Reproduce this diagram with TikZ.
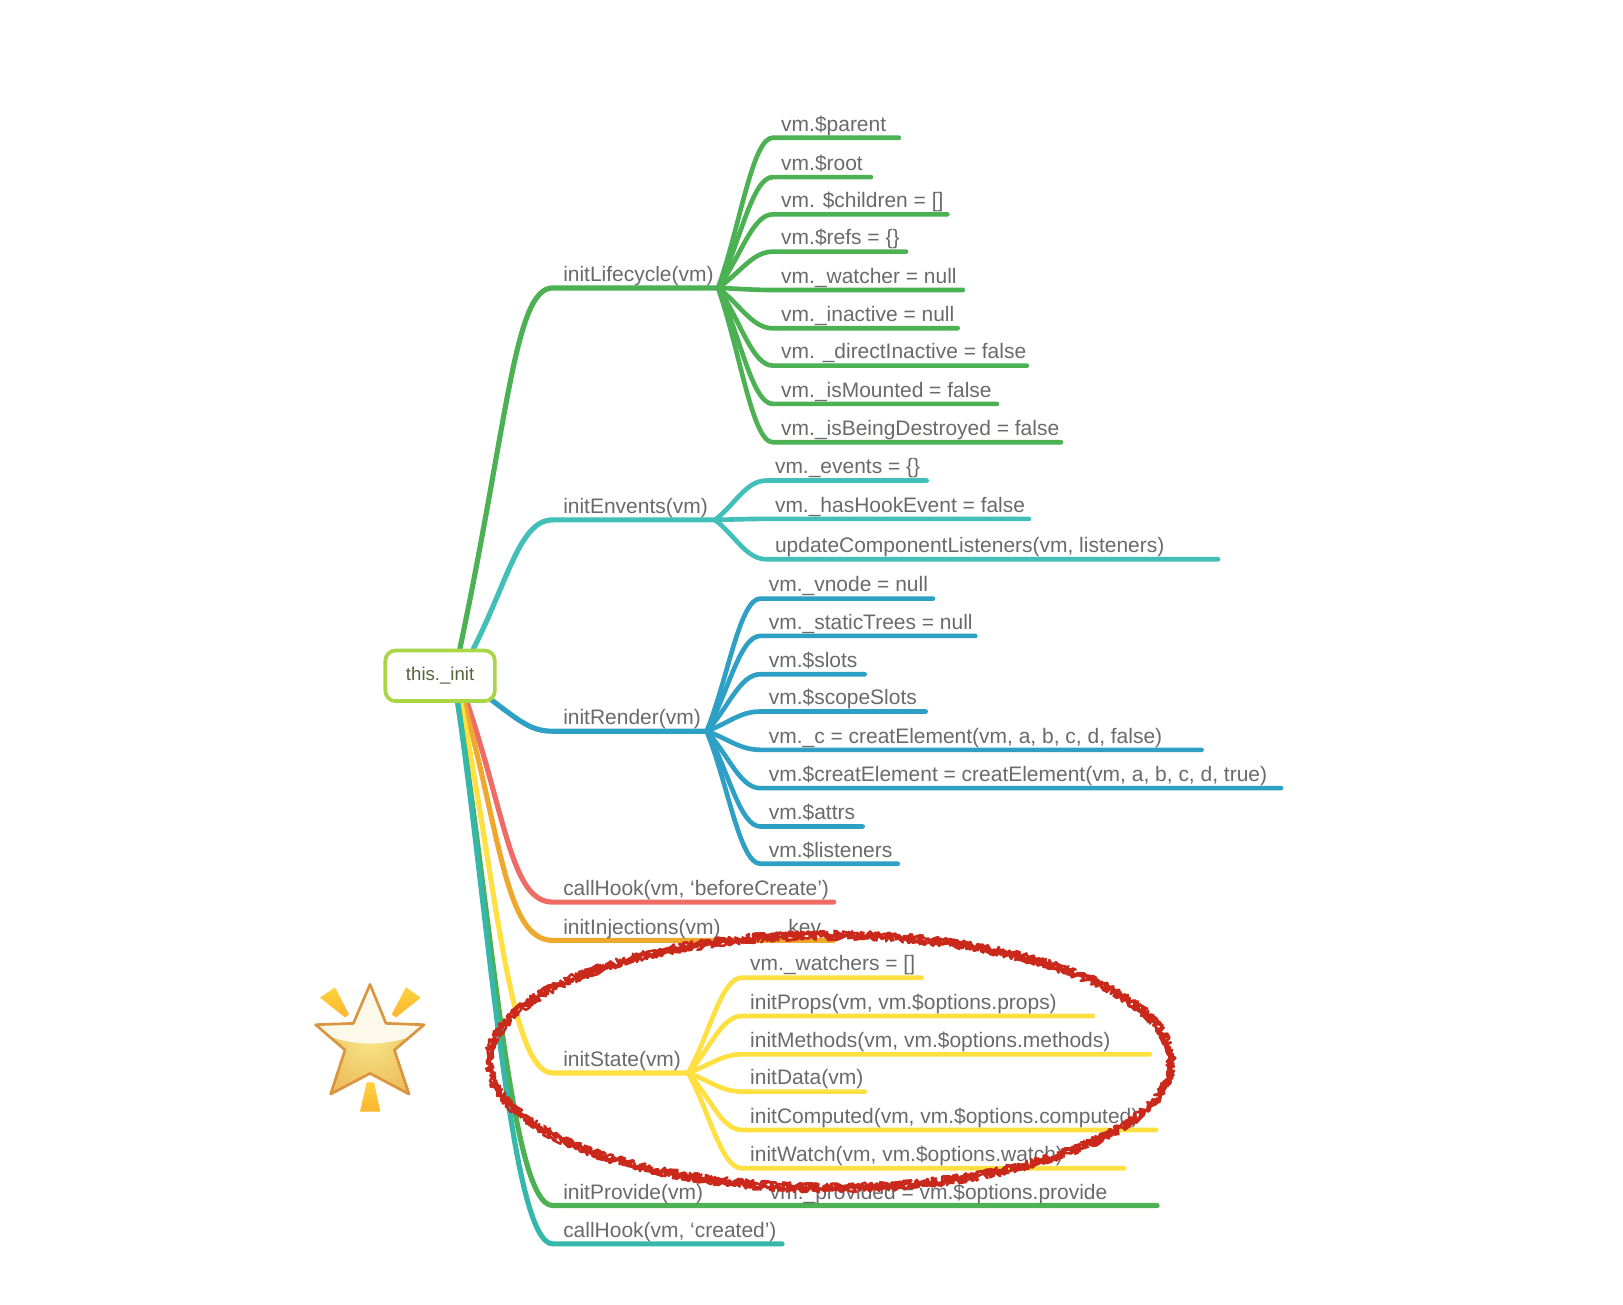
\documentclass[tikz,border=0pt]{standalone}
\usepackage{fontspec}
\setmainfont{Liberation Sans}
\usetikzlibrary{calc,decorations.pathmorphing}
\definecolor{cgreen}{HTML}{4CB153}
\definecolor{cteal}{HTML}{42BFB8}
\definecolor{cblue}{HTML}{2E9FC5}
\definecolor{cred}{HTML}{EF6C66}
\definecolor{corange}{HTML}{EFA82E}
\definecolor{cyellow}{HTML}{FFE040}
\definecolor{cteald}{HTML}{36B7AC}
\definecolor{croot}{HTML}{A9D645}
\definecolor{cink}{HTML}{6A6A6A}
\definecolor{crootink}{HTML}{55663B}
\definecolor{cscrib}{HTML}{C9281A}
\definecolor{cstarline}{HTML}{D9953F}
\definecolor{cstarin}{HTML}{F7E685}
\definecolor{cstarout}{HTML}{EDBE5E}
\definecolor{cshine}{HTML}{FCF8EA}
\definecolor{craytop}{HTML}{FFD23C}
\definecolor{crayend}{HTML}{FDB52F}
\tikzset{
  branch/.style={line width=4.5pt,line cap=round,line join=round},
  trunk/.style={line width=5pt,line cap=round,line join=round},
  txt/.style={text=cink,font=\fontsize{20.3}{23}\selectfont,inner sep=0pt,anchor=base west},
  rootbox/.style={draw=croot,line width=3.6pt,fill=white,rounded corners=10pt,minimum width=106pt,minimum height=49pt,inner sep=0pt,text=crootink,font=\fontsize{18}{20}\selectfont},
  scribble/.style={draw=cscrib,line width=2.4pt,line join=round,line cap=round,decorate,decoration={random steps,segment length=1.8pt,amplitude=4.6pt}},
  rayshade/.style={top color=craytop,bottom color=crayend,draw=none},
}
% name, colour, parent, curve end x, line y, line end x, text x, text
\newcommand{\leaf}[8]{%
  \coordinate (#1a) at (#4,#5);
  \coordinate (#1b) at (#6,#5);
  \draw[branch,draw=#2] (#3) .. controls ($(#3)!0.4!(#1a)$) and ($(#1a)+(-20,0)$) .. (#1a) -- (#1b);
  \node[txt] (#1) at (#7+1,#5-6.5) {#8};
}
\begin{document}
\begin{tikzpicture}[x=1pt,y=-1.0025pt]
\useasboundingbox (0,0) rectangle (1571,1260);
\fill[white] (0,0) rectangle (1571,1260);

% anchors on the root box and the junctions
\coordinate (rA) at (445,627);
\coordinate (rB) at (458,627);
\coordinate (rC) at (476,676);
\coordinate (rD) at (452,678);
\coordinate (rE) at (449,678);
\coordinate (rF) at (446,678);
\coordinate (rG) at (443,678);
\coordinate (rH) at (443,678);
\coordinate (jL) at (695,278);
\coordinate (jE) at (692,502);
\coordinate (jR) at (684,706);
\coordinate (jS) at (666,1036);

% initLifecycle
\draw[trunk,draw=cgreen] (rA) .. controls (492,405) and (498,278) .. (535,278) -- (jL);
\node[txt] (nLife) at (545,272) {initLifecycle(vm)};
\leaf{a1}{cgreen}{jL}{748}{133}{870}{755}{vm.\$parent}
\leaf{a2}{cgreen}{jL}{748}{171}{843}{755}{vm.\$root}
\leaf{a3}{cgreen}{jL}{748}{207}{917}{755}{vm. \$children = []}
\leaf{a4}{cgreen}{jL}{748}{243}{877}{755}{vm.\$refs = \{\}}
\leaf{a5}{cgreen}{jL}{748}{280}{932}{755}{vm.\_watcher = null}
\leaf{a6}{cgreen}{jL}{748}{317}{927}{755}{vm.\_inactive = null}
\leaf{a7}{cgreen}{jL}{748}{353}{994}{755}{vm. \_directInactive = false}
\leaf{a8}{cgreen}{jL}{748}{390}{965}{755}{vm.\_isMounted = false}
\leaf{a9}{cgreen}{jL}{748}{427}{1027}{755}{vm.\_isBeingDestroyed = false}

% initEnvents
\draw[trunk,draw=cteal] (rB) .. controls (492,560) and (503,502) .. (535,502) -- (jE);
\node[txt] (nEvt) at (545,496) {initEnvents(vm)};
\leaf{b1}{cteal}{jE}{742}{464}{897}{749}{vm.\_events = \{\}}
\leaf{b2}{cteal}{jE}{742}{501}{996}{749}{vm.\_hasHookEvent = false}
\leaf{b3}{cteal}{jE}{742}{540}{1179}{749}{updateComponentListeners(vm, listeners)}

% initRender
\draw[trunk,draw=cblue] (rC) .. controls (505,698) and (515,706) .. (535,706) -- (jR);
\node[txt] (nRen) at (545,700) {initRender(vm)};
\leaf{c1}{cblue}{jR}{736}{578}{903}{743}{vm.\_vnode = null}
\leaf{c2}{cblue}{jR}{736}{614}{944}{743}{vm.\_staticTrees = null}
\leaf{c3}{cblue}{jR}{736}{651}{837}{743}{vm.\$slots}
\leaf{c4}{cblue}{jR}{736}{687}{896}{743}{vm.\$scopeSlots}
\leaf{c5}{cblue}{jR}{736}{724}{1163}{743}{vm.\_c = creatElement(vm, a, b, c, d, false)}
\leaf{c6}{cblue}{jR}{736}{761}{1240}{743}{vm.\$creatElement = creatElement(vm, a, b, c, d, true)}
\leaf{c7}{cblue}{jR}{736}{798}{835}{743}{vm.\$attrs}
\leaf{c8}{cblue}{jR}{736}{834}{869}{743}{vm.\$listeners}

% callHook beforeCreate
\coordinate (dEnd) at (807,871);
\draw[trunk,draw=cred] (rD) .. controls (490,790) and (495,871) .. (535,871) -- (dEnd);
\node[txt] (nBefore) at (545,865) {callHook(vm, ‘beforeCreate’)};

% initInjections
\coordinate (eEnd) at (807,908);
\draw[trunk,draw=corange] (rE) .. controls (485,810) and (490,908) .. (535,908) -- (eEnd);
\node[txt] (nInj) at (545,902) {initInjections(vm)};
\node[txt] (nKey) at (763,902) {key};

% initState
\draw[trunk,draw=cyellow] (rF) .. controls (480,850) and (493,1036) .. (535,1036) -- (jS);
\node[txt] (nState) at (545,1030) {initState(vm)};
\leaf{f1}{cyellow}{jS}{718}{944}{892}{725}{vm.\_watchers = []}
\leaf{f2}{cyellow}{jS}{718}{981}{1058}{725}{initProps(vm, vm.\$options.props)}
\leaf{f3}{cyellow}{jS}{718}{1018}{1113}{725}{initMethods(vm, vm.\$options.methods)}
\leaf{f4}{cyellow}{jS}{718}{1054}{837}{725}{initData(vm)}
\leaf{f5}{cyellow}{jS}{718}{1091}{1119}{725}{initComputed(vm, vm.\$options.computed)}
\leaf{f6}{cyellow}{jS}{718}{1128}{1088}{725}{initWatch(vm, vm.\$options.watch)}

% initProvide
\coordinate (gEnd) at (1120,1164);
\draw[trunk,draw=cgreen] (rG) .. controls (478,900) and (495,1164) .. (535,1164) -- (gEnd);
\node[txt] (nProv) at (545,1158) {initProvide(vm)};
\node[txt] (nProvided) at (745,1158) {vm.\_provided = vm.\$options.provide};

% callHook created
\coordinate (hEnd) at (757,1201);
\draw[trunk,draw=cteald] (rH) .. controls (475,900) and (495,1201) .. (535,1201) -- (hEnd);
\node[txt] (nCreated) at (545,1195) {callHook(vm, ‘created’)};

% root
\node[rootbox] (root) at (426,652.5) {this.\_init};

% hand-drawn ellipse
\pgfmathsetseed{11}
\draw[scribble] (803.5,1025) ellipse [x radius=330,y radius=122];
\pgfmathsetseed{77}
\draw[scribble] (803.5,1025) ellipse [x radius=330,y radius=122];
\pgfmathsetseed{5}
\draw[scribble] (803.5,1025) ellipse [x radius=330,y radius=122];

% star
\begin{scope}[shift={(290.4,917.3)},x=0.3227pt,y=-0.3227pt]
  \path[rayshade] (60,143) -- (105,112) -- (147,193) -- (135,202) -- cycle;
  \path[rayshade] (318,112) -- (362,143) -- (288,202) -- (275,193) -- cycle;
  \path[rayshade] (200,397) -- (222,397) -- (241,485) -- (180,485) -- cycle;
  \def\starpath{(210,103) -- (258,220) -- (372,224) -- (283,300) -- (327,432) -- (210,370) -- (92,432) -- (135,300) -- (47,224) -- (160,220) -- cycle}
  \shade[inner color=cstarin,outer color=cstarout,line join=round] \starpath;
  \begin{scope}
    \clip \starpath;
    \fill[cshine] (30,90) -- (390,90) -- (390,222) .. controls (310,300) and (110,300) .. (30,222) -- cycle;
  \end{scope}
  \draw[draw=cstarline,line width=2.6pt,line join=round] \starpath;
\end{scope}
\end{tikzpicture}
\end{document}
